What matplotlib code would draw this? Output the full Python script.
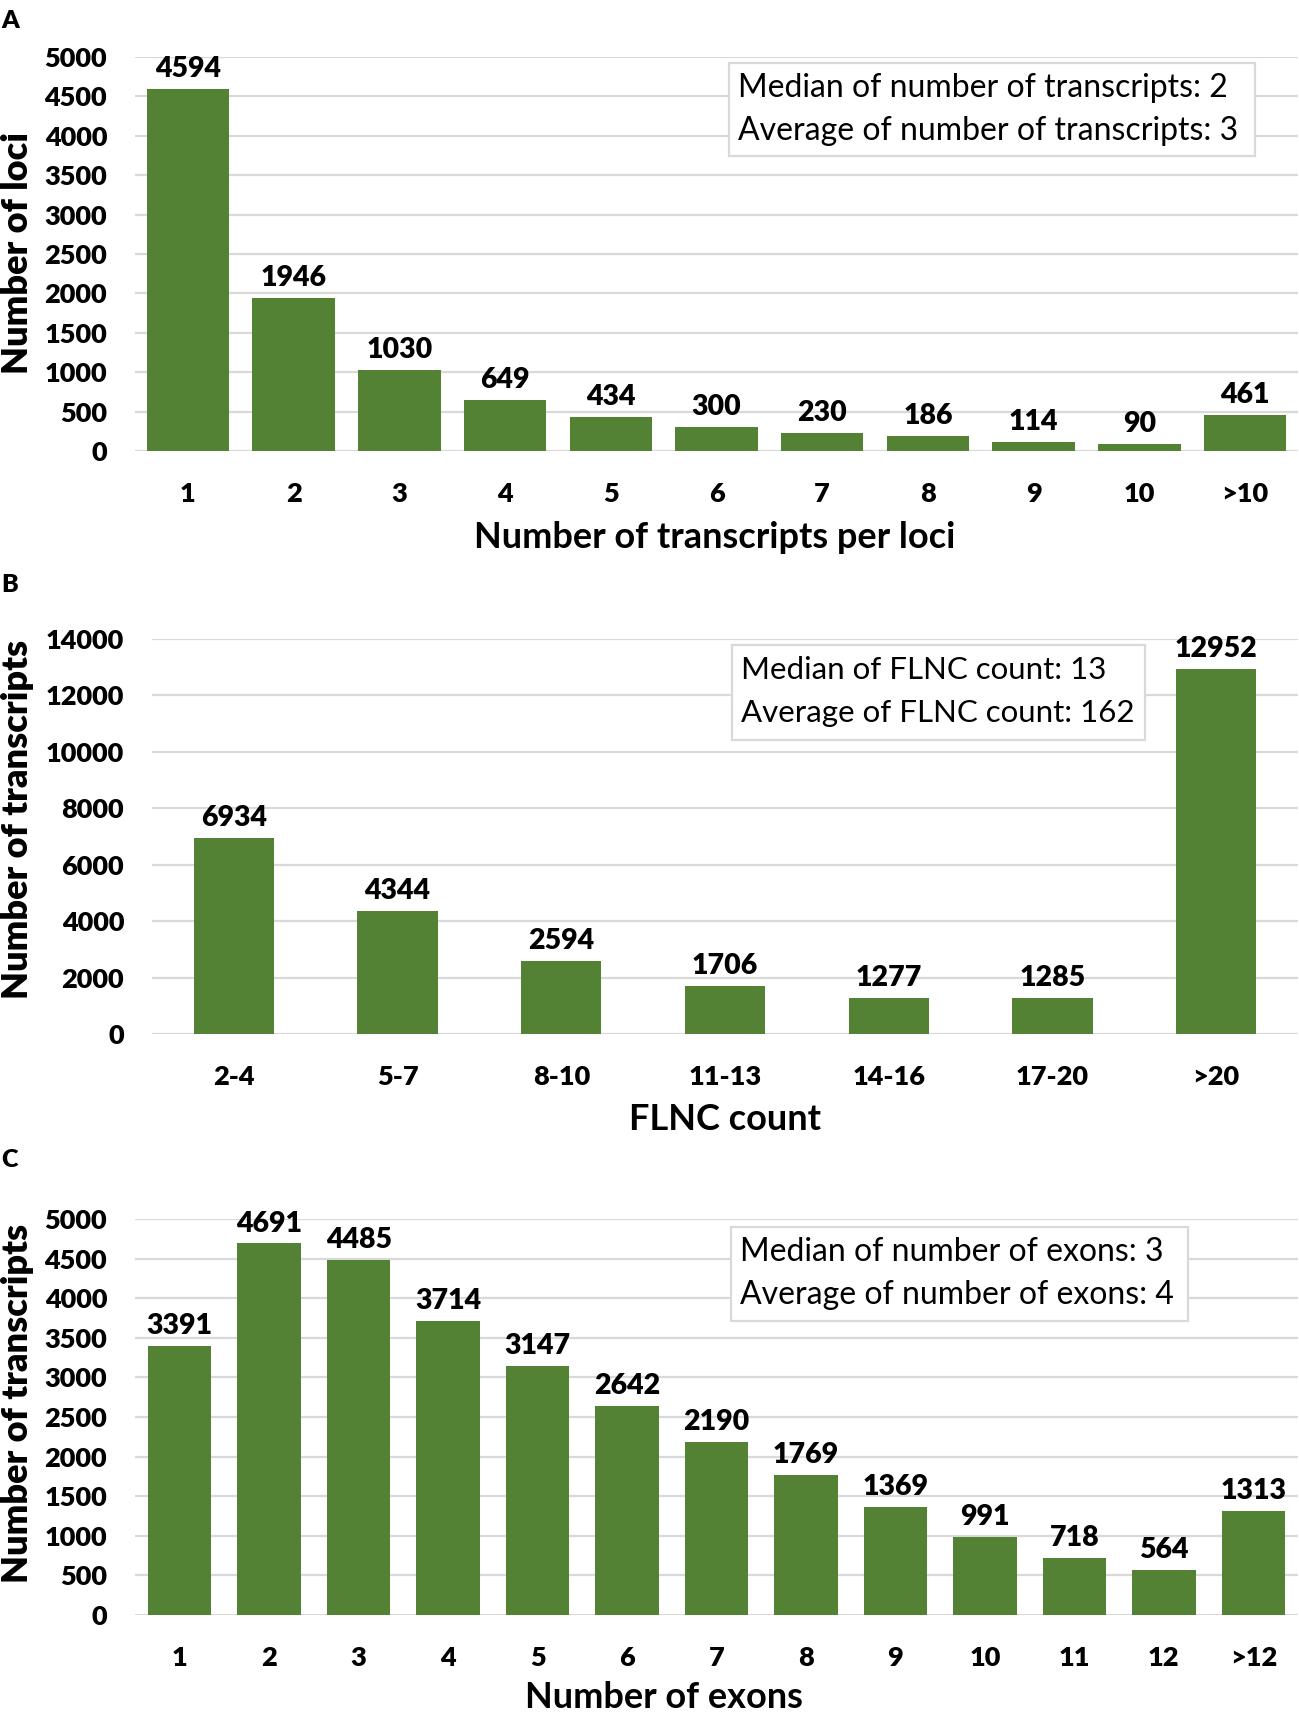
import matplotlib
matplotlib.use("Agg")
import matplotlib.pyplot as plt
from matplotlib.patches import Rectangle

plt.rcParams['font.family'] = ['Lato', 'DejaVu Sans']

# ---- data ----
cats_a = ["1", "2", "3", "4", "5", "6", "7", "8", "9", "10", ">10"]
vals_a = [4594, 1946, 1030, 649, 434, 300, 230, 186, 114, 90, 461]

cats_b = ["2-4", "5-7", "8-10", "11-13", "14-16", "17-20", ">20"]
vals_b = [6934, 4344, 2594, 1706, 1277, 1285, 12952]

cats_c = ["1", "2", "3", "4", "5", "6", "7", "8", "9", "10", "11", "12", ">12"]
vals_c = [3391, 4691, 4485, 3714, 3147, 2642, 2190, 1769, 1369, 991, 718, 564, 1313]

box_a = ["Median of number of transcripts: 2", "Average of number of transcripts: 3"]
box_b = ["Median of FLNC count: 13", "Average of FLNC count: 162"]
box_c = ["Median of number of exons: 3", "Average of number of exons: 4"]

W, H = 1299, 1712
GREEN = "#548235"
GRID = "#d9d9d9"
NUMW = 'heavy'

fig = plt.figure(figsize=(W / 100, H / 100), dpi=100)


def fx(px):
    return px / W


def fy(py):
    return 1 - py / H


def panel(rect_px, cats, vals, ymax, ystep, width, xlabel, ylabel,
          xlab_pos, ylab_pos, box_px, box_lines, text_left, line_ys, box_fs,
          letter, letter_pos):
    l, t, r, b = rect_px
    ax = fig.add_axes([fx(l), fy(b), fx(r - l), (b - t) / H])
    x = list(range(len(cats)))
    ax.bar(x, vals, width=width, color=GREEN, zorder=2)
    ax.set_xlim(-0.5, len(cats) - 0.5)
    ax.set_ylim(0, ymax)
    ax.set_yticks(list(range(0, ymax + 1, ystep)))
    ax.set_xticks(x)
    ax.set_xticklabels(cats)
    for s in ax.spines.values():
        s.set_visible(False)
    ax.yaxis.grid(True, color=GRID, linewidth=1.6, zorder=0)
    ax.set_axisbelow(True)
    ax.tick_params(axis='both', length=0, labelsize=19.5)
    ax.tick_params(axis='x', pad=22)
    ax.tick_params(axis='y', pad=20)
    for lab in ax.get_xticklabels() + ax.get_yticklabels():
        lab.set_fontweight(NUMW)
    for xi, v in zip(x, vals):
        ax.annotate(str(v), (xi, v), xytext=(0, 5), textcoords='offset points',
                    ha='center', va='bottom', fontsize=20.5, fontweight=NUMW)
    ax.set_xlabel(xlabel, fontsize=26, fontweight='bold', va='center')
    ax.xaxis.set_label_coords(fx(xlab_pos[0]), fy(xlab_pos[1]), transform=fig.transFigure)
    ax.set_ylabel(ylabel, fontsize=26, fontweight=NUMW, va='center')
    ax.yaxis.set_label_coords(fx(ylab_pos[0]), fy(ylab_pos[1]), transform=fig.transFigure)
    bl, bt, br, bb = box_px
    fig.patches.append(Rectangle((fx(bl), fy(bb)), fx(br - bl), (bb - bt) / H,
                                 transform=fig.transFigure, facecolor='white',
                                 edgecolor=GRID, linewidth=1.6, zorder=1))
    for txt, ly in zip(box_lines, line_ys):
        fig.text(fx(text_left), fy(ly), txt, fontsize=box_fs, ha='left', va='center')
    fig.text(fx(letter_pos[0]), fy(letter_pos[1]), letter, fontsize=18,
             fontweight=NUMW, ha='center', va='center')
    return ax


panel((135, 57, 1298, 451), cats_a, vals_a, 5000, 500, 0.78,
      "Number of transcripts per loci", "Number of loci",
      (715, 538), (18, 253), (729, 63, 1255, 156), box_a, 738, (88, 131), 23,
      "A", (10, 21))

panel((152, 639, 1298, 1034), cats_b, vals_b, 14000, 2000, 0.49,
      "FLNC count", "Number of transcripts",
      (725, 1120), (18, 819), (732, 645, 1145, 740), box_b, 741, (670, 713), 22.5,
      "B", (10, 585))

panel((135, 1219, 1298, 1615), cats_c, vals_c, 5000, 500, 0.71,
      "Number of exons", "Number of transcripts",
      (664, 1697), (18, 1403), (731, 1227, 1188, 1321), box_c, 740, (1252, 1295), 23,
      "C", (10, 1160))

fig.savefig("out.png", dpi=100)
